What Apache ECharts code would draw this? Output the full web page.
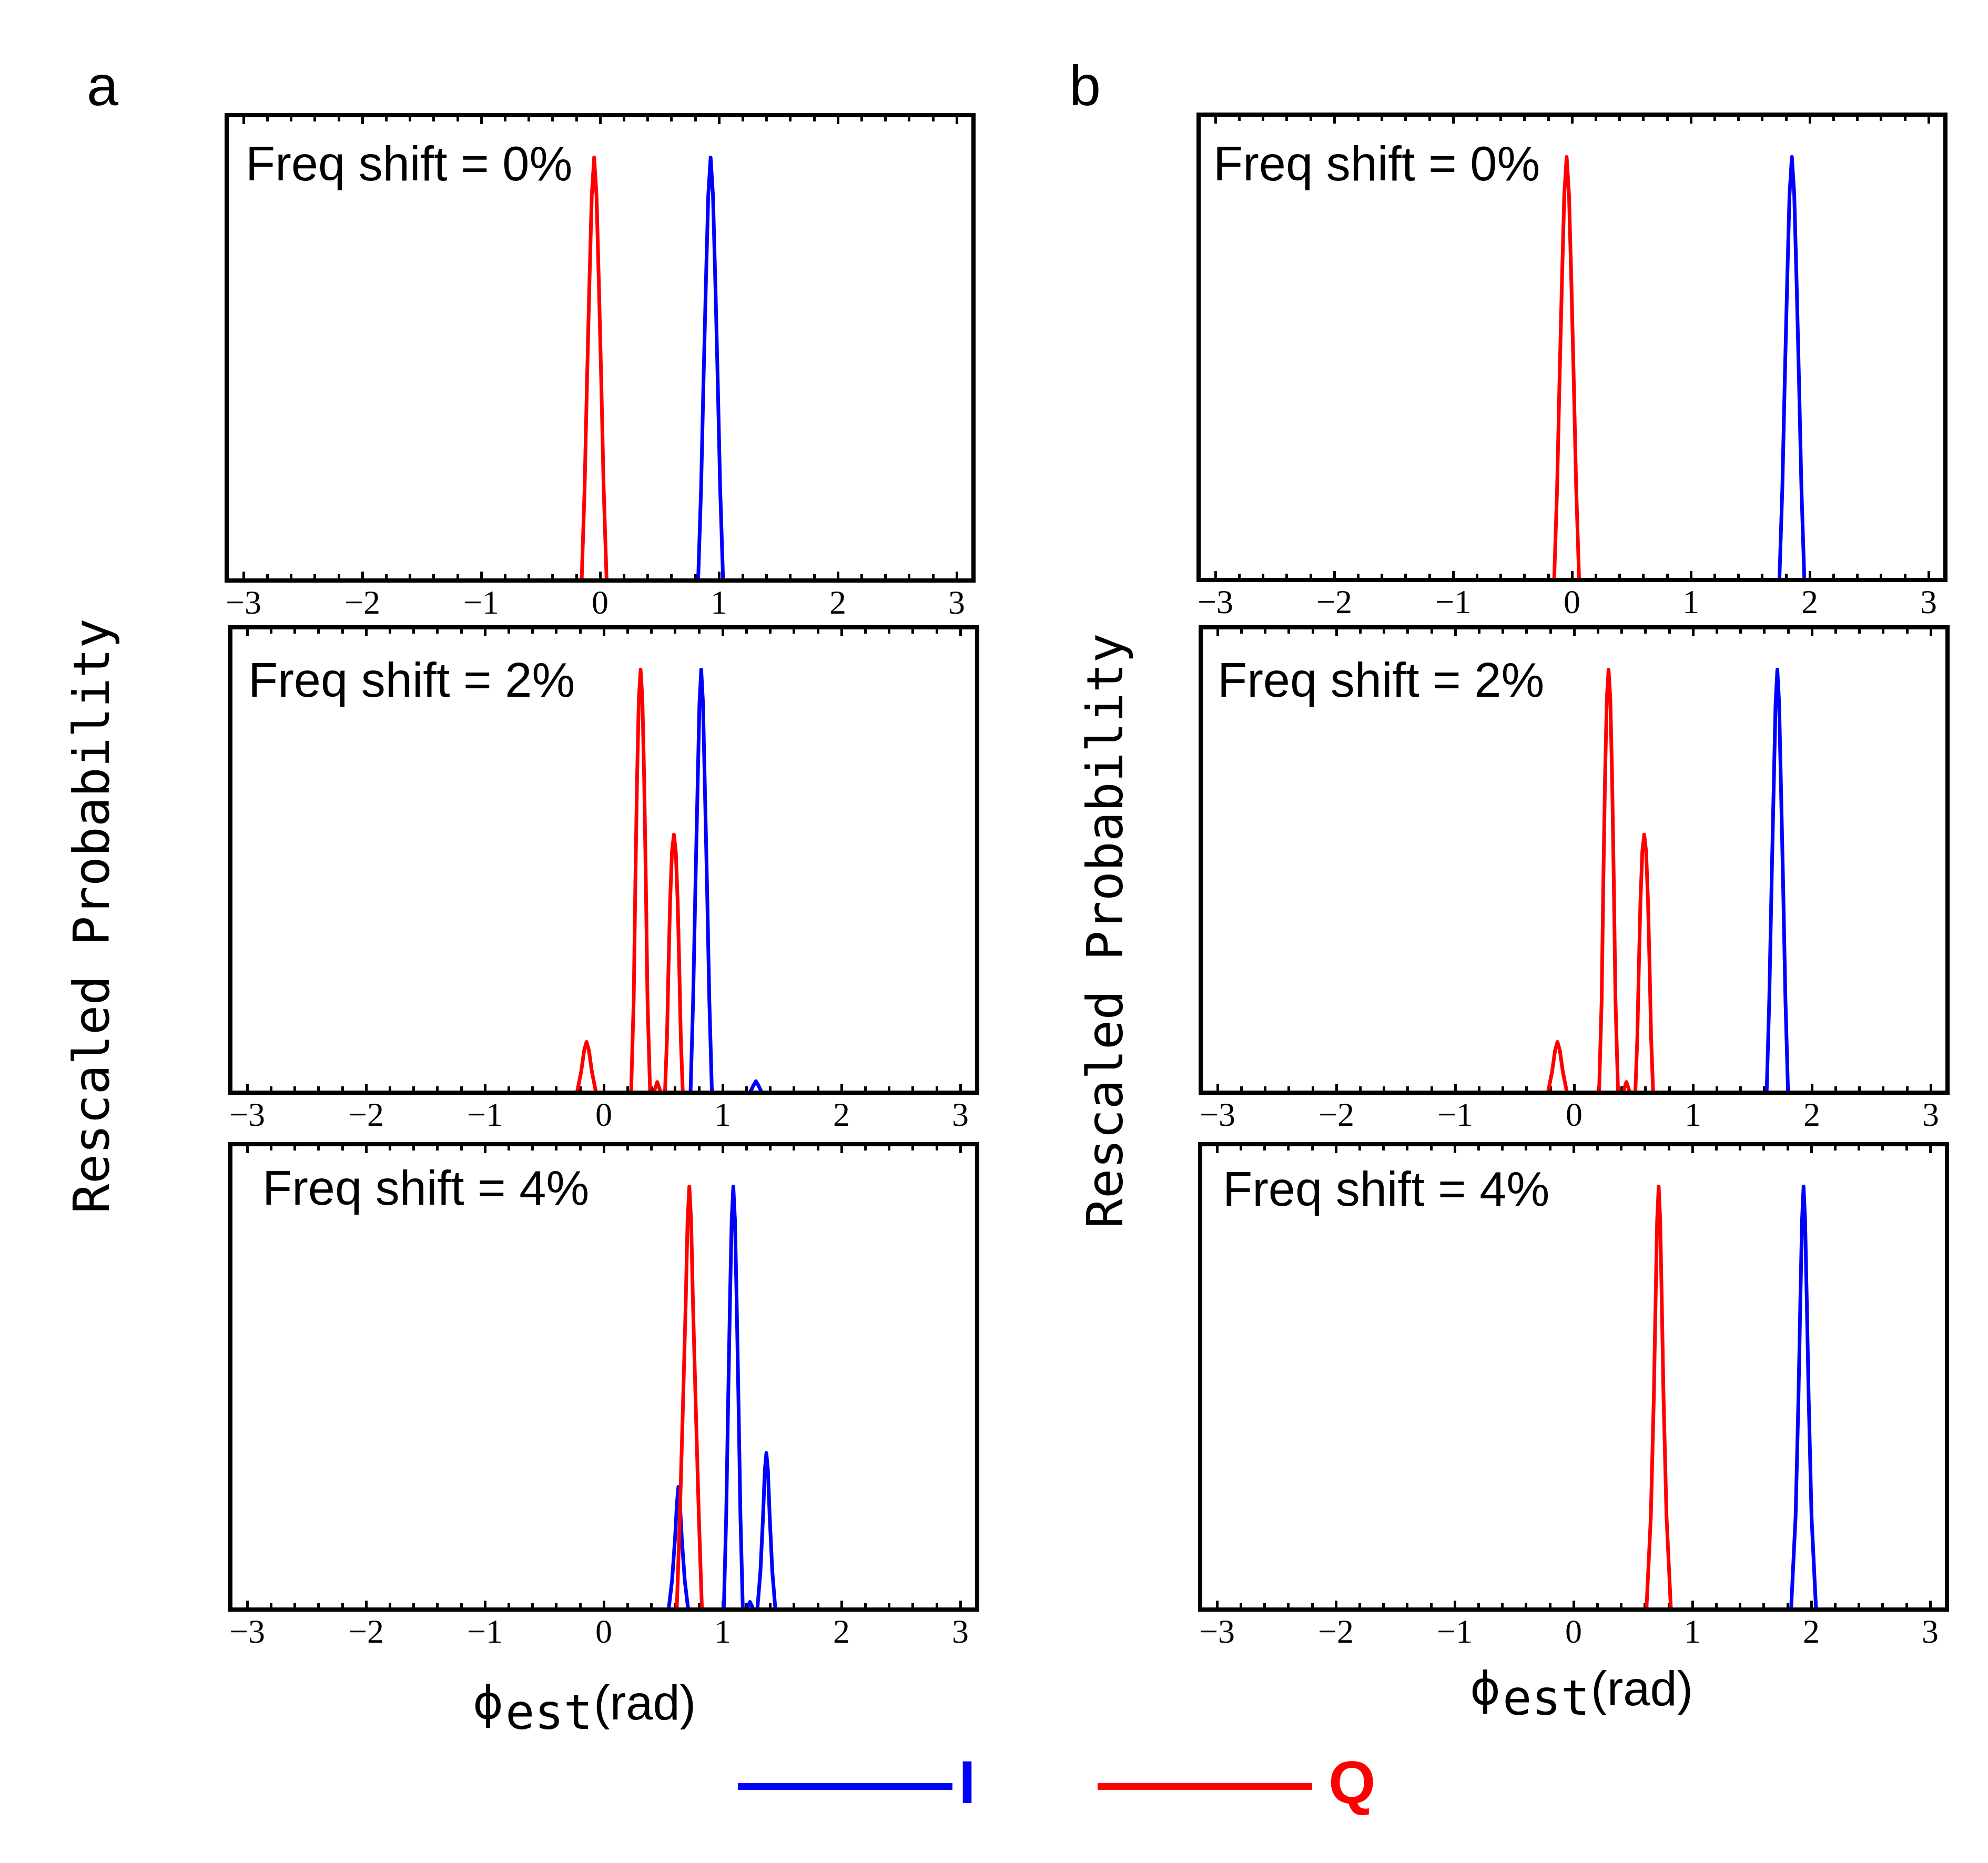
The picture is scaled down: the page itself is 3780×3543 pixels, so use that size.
<!DOCTYPE html>
<html><head><meta charset="utf-8">
<script src="https://cdn.jsdelivr.net/npm/echarts@6/dist/echarts.min.js"></script>
<style>html,body{margin:0;padding:0;background:#fff}#c{width:3780px;height:3543px}</style>
</head><body><div id="c"></div>
<script>
// ---- tick labels ----
const majorTicks = [-3, -2, -1, 0, 1, 2, 3];
const minorTicks = [-2.8,-2.6,-2.4,-2.2,-1.8,-1.6,-1.4,-1.2,-0.8,-0.6,-0.4,-0.2,0.2,0.4,0.6,0.8,1.2,1.4,1.6,1.8,2.2,2.4,2.6,2.8];
const panelTitles = ['Freq shift = 0%', 'Freq shift = 2%', 'Freq shift = 4%', 'Freq shift = 0%', 'Freq shift = 2%', 'Freq shift = 4%'];
const seriesNames = ['I', 'Q'];

// ---- data: [phi_est, rescaled probability] ----
const a1_I = [[-3.1416,0],[0.825,0],[0.85,0.22],[0.87,0.47],[0.89,0.7],[0.91,0.91],[0.93,1],[0.95,0.91],[0.97,0.7],[0.99,0.47],[1.01,0.22],[1.035,0],[3.1416,0]];
const a1_Q = [[-3.1416,0],[-0.155,0],[-0.13,0.22],[-0.11,0.47],[-0.09,0.7],[-0.07,0.91],[-0.05,1],[-0.03,0.91],[-0.01,0.7],[0.01,0.47],[0.03,0.22],[0.055,0],[3.1416,0]];

const a2_I = [[-3.1416,0],[0.73,0],[0.752,0.22],[0.772,0.5],[0.79,0.73],[0.805,0.92],[0.82,1],[0.835,0.92],[0.85,0.73],[0.868,0.5],[0.888,0.22],[0.91,0],
  [1.23,0],[1.255,0.015],[1.28,0.027],[1.305,0.015],[1.33,0],[3.1416,0]];
const a2_Q = [[-3.1416,0],[-0.225,0],[-0.19,0.05],[-0.165,0.1],[-0.145,0.12],[-0.125,0.1],[-0.1,0.05],[-0.065,0],
  [0.23,0],[0.252,0.22],[0.266,0.5],[0.28,0.74],[0.295,0.93],[0.31,1],[0.325,0.93],[0.34,0.74],[0.354,0.5],[0.368,0.22],[0.39,0],
  [0.42,0],[0.45,0.025],[0.48,0],
  [0.515,0],[0.532,0.13],[0.545,0.3],[0.558,0.45],[0.574,0.57],[0.59,0.61],[0.606,0.57],[0.622,0.45],[0.635,0.3],[0.648,0.13],[0.665,0],[3.1416,0]];

const a3_I = [[-3.1416,0],[0.546,0],[0.575,0.07],[0.6,0.17],[0.615,0.25],[0.628,0.29],[0.641,0.25],[0.656,0.17],[0.681,0.07],[0.71,0],
  [1.01,0],[1.03,0.22],[1.047,0.5],[1.062,0.73],[1.076,0.92],[1.09,1],[1.104,0.92],[1.118,0.73],[1.133,0.5],[1.15,0.22],[1.17,0],
  [1.2,0],[1.23,0.018],[1.26,0],
  [1.292,0],[1.318,0.09],[1.34,0.22],[1.355,0.33],[1.368,0.37],[1.381,0.33],[1.396,0.22],[1.418,0.09],[1.444,0],[3.1416,0]];
const a3_Q = [[-3.1416,0],[0.614,0],[0.64,0.22],[0.668,0.5],[0.69,0.73],[0.705,0.92],[0.72,1],[0.735,0.92],[0.75,0.73],[0.772,0.5],[0.8,0.22],[0.826,0],[3.1416,0]];

const b1_I = [[-3.1416,0],[1.745,0],[1.77,0.22],[1.79,0.47],[1.81,0.7],[1.83,0.91],[1.85,1],[1.87,0.91],[1.89,0.7],[1.91,0.47],[1.93,0.22],[1.955,0],[3.1416,0]];
const b1_Q = [[-3.1416,0],[-0.15,0],[-0.125,0.22],[-0.105,0.47],[-0.085,0.7],[-0.065,0.91],[-0.045,1],[-0.025,0.91],[-0.005,0.7],[0.015,0.47],[0.035,0.22],[0.06,0],[3.1416,0]];

const b2_I = [[-3.1416,0],[1.62,0],[1.642,0.22],[1.662,0.5],[1.68,0.73],[1.695,0.92],[1.71,1],[1.725,0.92],[1.74,0.73],[1.758,0.5],[1.778,0.22],[1.8,0],[3.1416,0]];
const b2_Q = [[-3.1416,0],[-0.22,0],[-0.185,0.05],[-0.16,0.1],[-0.14,0.12],[-0.12,0.1],[-0.095,0.05],[-0.06,0],
  [0.21,0],[0.232,0.22],[0.246,0.5],[0.26,0.74],[0.275,0.93],[0.29,1],[0.305,0.93],[0.32,0.74],[0.334,0.5],[0.348,0.22],[0.37,0],
  [0.41,0],[0.44,0.025],[0.47,0],
  [0.515,0],[0.532,0.13],[0.545,0.3],[0.558,0.45],[0.574,0.57],[0.59,0.61],[0.606,0.57],[0.622,0.45],[0.635,0.3],[0.648,0.13],[0.665,0],[3.1416,0]];

const b3_I = [[-3.1416,0],[1.83,0],[1.868,0.22],[1.892,0.5],[1.908,0.73],[1.922,0.92],[1.935,1],[1.948,0.92],[1.962,0.73],[1.978,0.5],[2.002,0.22],[2.04,0],[3.1416,0]];
const b3_Q = [[-3.1416,0],[0.613,0],[0.65,0.22],[0.675,0.5],[0.69,0.73],[0.703,0.92],[0.716,1],[0.729,0.92],[0.742,0.73],[0.757,0.5],[0.782,0.22],[0.819,0],[3.1416,0]];

// ---- layout ----
const W = 1420, H = 885;
const panels = [
  {left: 431, top: 219, tx: 467, ty: 318, I: a1_I, Q: a1_Q},
  {left: 438, top: 1193, tx: 472, ty: 1300, I: a2_I, Q: a2_Q},
  {left: 438, top: 2176, tx: 499, ty: 2266, I: a3_I, Q: a3_Q},
  {left: 2279, top: 218, tx: 2307, ty: 318, I: b1_I, Q: b1_Q},
  {left: 2283, top: 1193, tx: 2315, ty: 1300, I: b2_I, Q: b2_Q},
  {left: 2282, top: 2176, tx: 2325, ty: 2268, I: b3_I, Q: b3_Q}
];
const BLUE = '#0000ff', RED = '#ff0000';
const fmt = v => (v < 0 ? '\u2212' + Math.abs(v) : String(v));

const option = {
  animation: false,
  backgroundColor: '#ffffff',
  grid: [], xAxis: [], yAxis: [], series: [], graphic: [],
  legend: {
    data: [
      {name: 'I', textStyle: {color: BLUE, padding: [0, 0, 0, 7]}},
      {name: 'Q', textStyle: {color: RED, padding: [0, 0, 0, 26]}}
    ],
    left: 1403, top: 3340, padding: 0,
    itemWidth: 408, itemHeight: 13, itemGap: 232, icon: 'rect',
    selectedMode: false,
    textStyle: {fontSize: 115, fontWeight: 'bold', fontFamily: 'Liberation Sans', lineHeight: 115}
  }
};

function tickAxis(i, pos, vals, len, withLabel) {
  return {
    type: 'value', gridIndex: i, position: pos, min: -Math.PI, max: Math.PI,
    axisLine: {show: false}, splitLine: {show: false},
    axisTick: {show: true, inside: true, length: len, customValues: vals, lineStyle: {color: '#000', width: 5}},
    axisLabel: withLabel ? {show: true, customValues: vals, formatter: fmt, margin: 14,
      fontFamily: 'Liberation Serif', fontSize: 64, color: '#000'} : {show: false}
  };
}

panels.forEach((p, i) => {
  option.grid.push({left: p.left, top: p.top, width: W, height: H, show: true, z: 5,
    borderColor: '#000', borderWidth: 8, backgroundColor: 'transparent'});
  option.xAxis.push(tickAxis(i, 'bottom', majorTicks, 17, true));
  option.xAxis.push(tickAxis(i, 'bottom', minorTicks, 12, false));
  option.xAxis.push(tickAxis(i, 'top', majorTicks, 17, false));
  option.xAxis.push(tickAxis(i, 'top', minorTicks, 12, false));
  option.yAxis.push({type: 'value', gridIndex: i, min: 0, max: 1.1, show: false});
  [['I', p.I, BLUE], ['Q', p.Q, RED]].forEach(([name, data, col]) => {
    option.series.push({
      type: 'line', name: name, xAxisIndex: i * 4, yAxisIndex: i, data: data,
      showSymbol: false, symbol: 'none', color: col,
      lineStyle: {color: col, width: 7, join: 'round'}
    });
  });
  option.graphic.push({type: 'text', x: p.tx, y: p.ty, z: 10, style: {
    text: panelTitles[i], fill: '#000', font: '92px "Liberation Sans"',
    align: 'left', verticalAlign: 'middle', textAlign: 'left', textVerticalAlign: 'middle'}});
});

function txt(x, y, text, font, extra) {
  return Object.assign({type: 'text', x: x, y: y, z: 10, style: {
    text: text, fill: '#000', font: font, align: 'left', verticalAlign: 'middle',
    textAlign: 'left', textVerticalAlign: 'middle'}}, extra || {});
}
// panel letters
option.graphic.push(txt(165, 170, 'a', '108px "Liberation Sans"'));
option.graphic.push(txt(2033, 170, 'b', '108px "Liberation Sans"'));
// y labels
[[183, 1742], [2110, 1770]].forEach(([x, y]) => {
  option.graphic.push({type: 'text', x: x, y: y, rotation: Math.PI / 2, z: 10, style: {
    text: 'Rescaled Probability', fill: '#000', font: '94px "DejaVu Sans Mono"',
    align: 'center', verticalAlign: 'middle', textAlign: 'center', textVerticalAlign: 'middle'}});
});
// x labels: phi_est(rad)
[[2795, 3218], [899, 3245]].forEach(([x, y]) => {
  option.graphic.push(txt(x, y, '\u03D5', '88px "DejaVu Sans"'));
  option.graphic.push(txt(x + 62, y + 19, 'est', '92px "DejaVu Sans Mono"'));
  option.graphic.push(txt(x + 230, y, '(rad)', '92px "Liberation Sans"'));
});

const chart = echarts.init(document.getElementById('c'), null, {renderer: 'canvas'});
chart.setOption(option);
</script>
</body></html>
